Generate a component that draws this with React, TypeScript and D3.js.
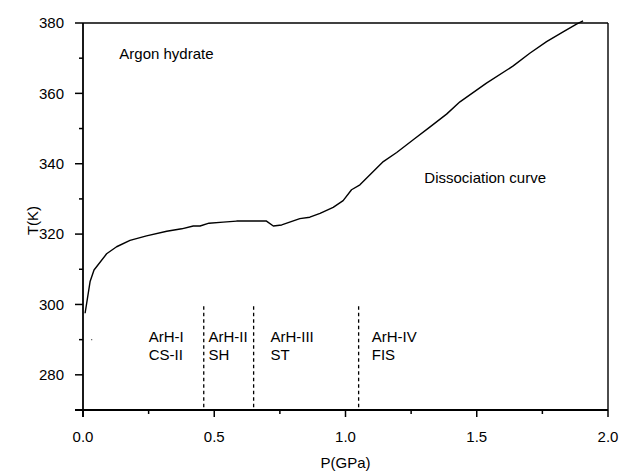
import React from "react";
import * as d3 from "d3";

const pressure = [0.008, 0.027, 0.042, 0.09, 0.128, 0.179, 0.242, 0.319, 0.376, 0.42, 0.446, 0.48, 0.534, 0.585, 0.699, 0.725, 0.757, 0.826, 0.864, 0.903, 0.953, 0.991, 1.023, 1.055, 1.144, 1.195, 1.258, 1.321, 1.385, 1.436, 1.537, 1.639, 1.702, 1.766, 1.829, 1.88, 1.905];
const temperature = [297.5, 306.5, 309.8, 314.4, 316.4, 318.2, 319.5, 320.8, 321.5, 322.3, 322.3, 323.1, 323.4, 323.7, 323.7, 322.3, 322.6, 324.4, 324.8, 325.9, 327.6, 329.5, 332.6, 334.0, 340.6, 343.2, 346.8, 350.4, 354.1, 357.6, 362.9, 367.8, 371.4, 374.7, 377.5, 379.7, 380.6];
const boundaries = [0.46, 0.65, 1.05];
const phaseNames = ["ArH-I", "ArH-II", "ArH-III", "ArH-IV"];
const phaseStructures = ["CS-II", "SH", "ST", "FIS"];
const phaseLabelP = [0.25, 0.478, 0.714, 1.1];
const xTicks = [0, 0.5, 1.0, 1.5, 2.0];
const xMinor = [0.25, 0.75, 1.25, 1.75];
const yTicks = [280, 300, 320, 340, 360, 380];
const yMinor = [270, 290, 310, 330, 350, 370];

export default function App() {
  const W = 622, H = 471;
  const L = 83, R = 608, T = 23, B = 410;
  const x = d3.scaleLinear().domain([0, 2]).range([L, R]);
  const y = d3.scaleLinear().domain([270, 380]).range([B, T]);
  const pts: [number, number][] = pressure.map((p, i) => [p, temperature[i]]);
  const line = d3.line<[number, number]>().x(d => x(d[0])).y(d => y(d[1]));
  const font = "'Liberation Sans', Arial, sans-serif";
  return (
    <svg width={W} height={H} style={{ position: "absolute", left: 0, top: 0, background: "#fff" }} fontFamily={font}>
      <rect x={0} y={0} width={W} height={H} fill="#fff" />
      {/* frame */}
      <line x1={L} y1={T} x2={R} y2={T} stroke="#000" strokeWidth={1.6} />
      <line x1={R} y1={T} x2={R} y2={B} stroke="#000" strokeWidth={1.4} />
      <line x1={L} y1={T} x2={L} y2={B + 7} stroke="#000" strokeWidth={1.8} />
      <line x1={L - 8} y1={B} x2={R} y2={B} stroke="#000" strokeWidth={1.8} />
      {/* x ticks */}
      {xTicks.map(t => (
        <g key={"xt" + t}>
          <line x1={x(t)} x2={x(t)} y1={B} y2={B + 7} stroke="#000" strokeWidth={1.5} />
          <text x={x(t)} y={442} textAnchor="middle" fontSize={15}>{t.toFixed(1)}</text>
        </g>
      ))}
      {xMinor.map(t => (
        <line key={"xm" + t} x1={x(t)} x2={x(t)} y1={B} y2={B + 4} stroke="#000" strokeWidth={1.5} />
      ))}
      {/* y ticks */}
      {yTicks.map(t => (
        <g key={"yt" + t}>
          <line x1={L - 8} x2={L} y1={y(t)} y2={y(t)} stroke="#000" strokeWidth={1.5} />
          <text x={64} y={y(t)} dy="0.36em" textAnchor="end" fontSize={15}>{t}</text>
        </g>
      ))}
      {yMinor.map(t => (
        <line key={"ym" + t} x1={L - 4} x2={L} y1={y(t)} y2={y(t)} stroke="#000" strokeWidth={1.5} />
      ))}
      {/* axis titles */}
      <text x={345.5} y={468} textAnchor="middle" fontSize={15}>P(GPa)</text>
      <text transform={`translate(38,${(T + B) / 2 + 4}) rotate(-90)`} textAnchor="middle" fontSize={15}>T(K)</text>
      {/* phase boundaries */}
      {boundaries.map(b => (
        <line key={"b" + b} x1={x(b)} x2={x(b)} y1={y(299.5)} y2={B} stroke="#000" strokeWidth={1.3} strokeDasharray="3.5,3" />
      ))}
      {/* curve */}
      <path d={line(pts) || ""} fill="none" stroke="#000" strokeWidth={1.4} strokeLinejoin="round" />
      {/* stray point */}
      <circle cx={x(0.033)} cy={y(290)} r={0.7} fill="#555" />
      {/* labels */}
      {phaseNames.map((n, i) => (
        <g key={n}>
          <text x={x(phaseLabelP[i])} y={341.7} fontSize={15}>{n}</text>
          <text x={x(phaseLabelP[i])} y={360} fontSize={15}>{phaseStructures[i]}</text>
        </g>
      ))}
      <text x={119.3} y={59.3} fontSize={15}>Argon hydrate</text>
      <text x={424.3} y={183.3} fontSize={15}>Dissociation curve</text>
    </svg>
  );
}
